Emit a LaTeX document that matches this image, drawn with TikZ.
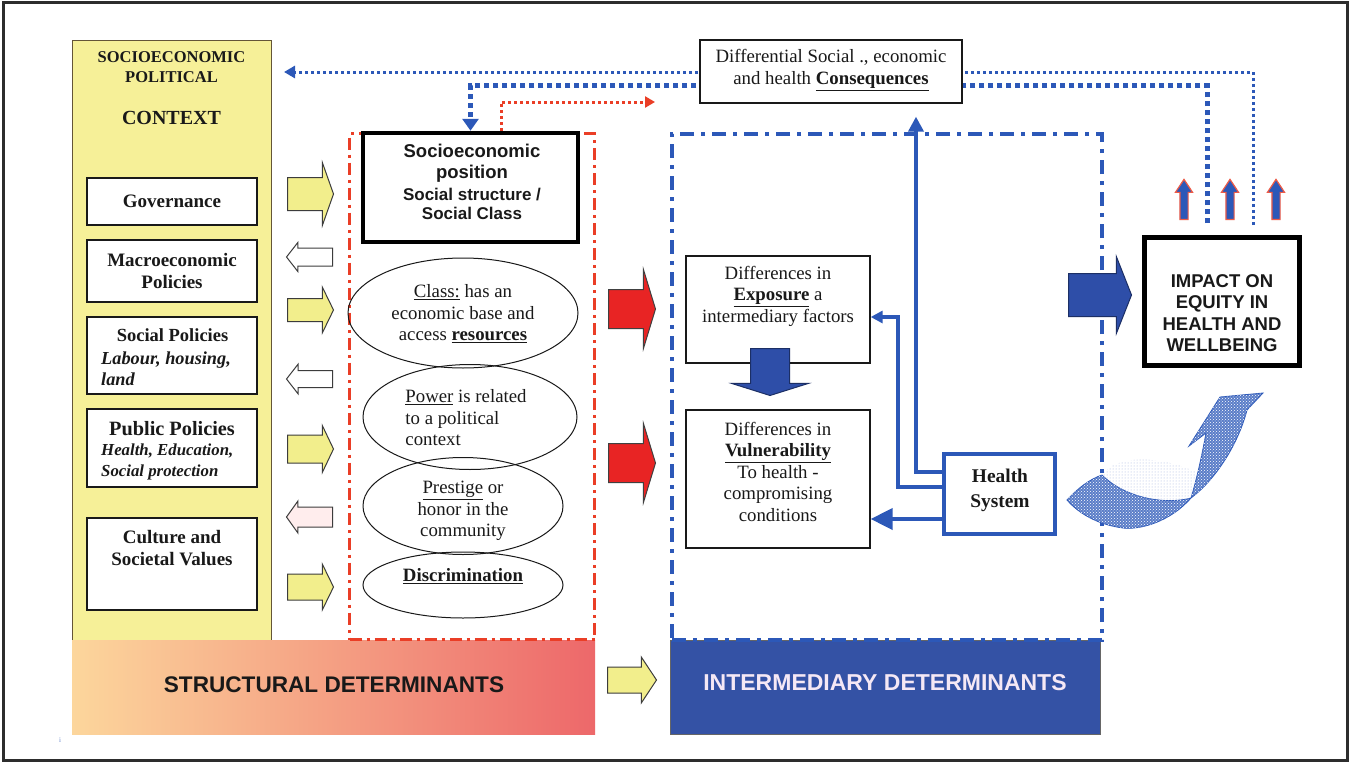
\documentclass[tikz,border=0pt]{standalone}
\usepackage{fontspec}
\setmainfont{Liberation Serif}
\setsansfont{Liberation Sans}
\usetikzlibrary{shapes.geometric,shapes.arrows,arrows.meta,patterns,calc}
\definecolor{ctxyellow}{RGB}{246,240,152}
\definecolor{ctxborder}{RGB}{100,85,55}
\definecolor{arryellow}{RGB}{242,238,140}
\definecolor{redline}{RGB}{234,62,38}
\definecolor{bluel}{RGB}{44,88,184}
\definecolor{bluebar}{RGB}{52,82,165}
\definecolor{bluefill}{RGB}{46,78,168}
\definecolor{gradL}{RGB}{252,214,156}
\definecolor{gradR}{RGB}{237,104,106}
\definecolor{redfill}{RGB}{232,36,36}
\definecolor{inkc}{RGB}{25,25,25}
\definecolor{framec}{RGB}{45,45,45}
\definecolor{bartext}{RGB}{245,232,245}
\tikzset{
 txt/.style={inner sep=0pt, align=center, text=inkc, font=\fontsize{18.8}{21.5}\selectfont},
 box/.style={draw=inkc, fill=white, line width=1.3, inner sep=0pt},
 polbox/.style={box, minimum width=170},
 ptitle/.style={txt, font=\bfseries\fontsize{19}{22.5}\selectfont},
 psub/.style={txt, align=left, font=\bfseries\itshape\fontsize{16.8}{21}\selectfont},
 barr/.style n args={4}{single arrow, single arrow head indent=0pt, inner xsep=0pt, inner ysep=#2, minimum width=1pt, minimum height=#1, single arrow head extend=#3, single arrow tip angle=#4, line width=1, anchor=tail},
 barrv/.style n args={4}{single arrow, single arrow head indent=0pt, inner ysep=0pt, inner xsep=#2, minimum width=1pt, minimum height=#1, single arrow head extend=#3, single arrow tip angle=#4, line width=1, anchor=tail},
 yarr/.style={draw=inkc!85, fill=arryellow},
 warr/.style={draw=inkc!85, fill=white, shape border rotate=180},
 rarr/.style={draw=black!75, fill=redfill},
 bbarr/.style={draw=bluefill!60!black, fill=bluefill},
 uparr/.style={draw=redline!85, fill=bluel, shape border rotate=90, line width=1.2},
 elli/.style={ellipse, draw=inkc, line width=1, inner sep=0pt},
 sanst/.style={txt, font=\sffamily\bfseries\fontsize{18.5}{21.5}\selectfont},
 conn/.style={bluel, line width=4},
}
\begin{document}
\begin{tikzpicture}[x=1pt,y=-1pt]
\useasboundingbox (0,0) rectangle (1350,763);
\fill[white] (0,0) rectangle (1350,763);
\draw[framec, line width=3] (3,2.5) rectangle (1347.5,760.5);

% ---------- context column
\node[draw=ctxborder, fill=ctxyellow, line width=1.3, minimum width=199, minimum height=602, anchor=north west, inner sep=0pt] (ctx) at (72,40) {};
\node[txt, font=\bfseries\fontsize{16.5}{20}\selectfont] (ctxA) at (171.5,67) {SOCIOECONOMIC\\POLITICAL};
\node[txt, font=\bfseries\fontsize{20}{22}\selectfont] (ctxB) at (171.5,118) {CONTEXT};

\node[polbox, ptitle, minimum height=47] (gov) at (172,201.5) {Governance};
\node[polbox, ptitle, minimum height=62] (mac) at (172,271) {Macroeconomic\\Policies};
\node[polbox, minimum height=77] (soc) at (172,355.5) {};
\node[ptitle, font=\bfseries\fontsize{18.5}{22}\selectfont] (socT) at (172.5,335) {Social Policies};
\node[psub, font=\bfseries\itshape\fontsize{18.3}{21}\selectfont, anchor=west] (socS) at (101,369) {Labour, housing,\\land};
\node[polbox, minimum height=78] (pub) at (172,448) {};
\node[ptitle, font=\bfseries\fontsize{20.3}{22}\selectfont] (pubT) at (172,429) {Public Policies};
\node[psub, anchor=west] (pubS) at (101,462) {Health, Education,\\Social protection};
\node[polbox, minimum height=92] (cul) at (172,564) {};
\node[ptitle] (culT) at (172,548) {Culture and\\Societal Values};

% ---------- bottom bars
\node[anchor=north west, minimum width=523, minimum height=94, left color=gradL, right color=gradR, inner sep=0pt] (sdbar) at (72,640) {};
\node[txt, font=\sffamily\bfseries\fontsize{22.6}{24}\selectfont] (sdT) at (334,685) {STRUCTURAL DETERMINANTS};
\node[anchor=north west, minimum width=430, minimum height=94, fill=bluebar, draw=black!60, line width=1, inner sep=0pt] (idbar) at (670,640) {};
\node[txt, text=bartext, font=\sffamily\bfseries\fontsize{23}{24}\selectfont] (idT) at (885,683) {INTERMEDIARY DETERMINANTS};
\node[txt, font=\fontsize{7}{8}\selectfont, text=bluel!70] (ii) at (60,740) {i};

% ---------- group frames
\node[draw=redline, line width=3, dash pattern=on 12pt off 5pt on 3pt off 5pt, minimum width=245, minimum height=506, anchor=north west, inner sep=0pt] (sgrp) at (348,132) {};
\node[draw=bluel, line width=4, dash pattern=on 14pt off 7pt on 4pt off 7pt, minimum width=430, minimum height=506, anchor=north west, inner sep=0pt] (igrp) at (670,132) {};

% ---------- block arrows, context <-> position
\node[barr={46pt}{16pt}{15pt}{141}, yarr] (a1) at (287,194) {};
\node[barr={46pt}{8.5pt}{5.5pt}{104}, warr] (a2) at (333,257) {};
\node[barr={46pt}{11pt}{11.5pt}{128}, yarr] (a3) at (287,310) {};
\node[barr={46pt}{8pt}{6.5pt}{104}, warr] (a4) at (333,379) {};
\node[barr={46pt}{13.5pt}{9.5pt}{129}, yarr] (a5) at (287,449) {};
\node[barr={46pt}{9.5pt}{6pt}{109}, warr, fill=red!7] (a6) at (333,517) {};
\node[barr={46pt}{12.5pt}{10pt}{128}, yarr] (a7) at (287,587) {};
\node[barr={49pt}{12.5pt}{10pt}{113}, yarr] (a8) at (607,680) {};

% ---------- dotted feedback lines
\coordinate (la0) at (1253,225);
\coordinate (la1) at (284,72);
\coordinate (lb0) at (1207,223);
\draw[bluel, line width=3, dash pattern=on 3pt off 3pt, -{Triangle[length=11,width=12]}] (la0) |- (la1);

% ---------- socioeconomic position
\node[draw=black, line width=4.5, fill=white, minimum width=215, minimum height=109, inner sep=0pt] (sep) at (470.5,187.5) {};
\node[sanst] (sepA) at (472,163) {Socioeconomic\\position};
\node[sanst, font=\sffamily\bfseries\fontsize{17}{18.5}\selectfont] (sepB) at (472,204) {Social structure /\\Social Class};

\draw[bluel, line width=5, dash pattern=on 5pt off 4pt, -{Triangle[length=12,width=16]}] (lb0) |- ($(sep.north)+(0,-45)$) -- (sep.north);
\coordinate (rd1) at (655,102);
\draw[redline, line width=3, dash pattern=on 3pt off 3pt, -{Triangle[length=10,width=11]}] ([xshift=30.5pt]sep.north) |- (rd1);

% ---------- ellipses
\node[elli, minimum width=230, minimum height=110] (eClass) at (463,313) {};
\node[elli, minimum width=214, minimum height=105] (ePower) at (470,417) {};
\node[elli, minimum width=200, minimum height=97] (ePrest) at (463,506) {};
\node[elli, minimum width=200, minimum height=66] (eDisc) at (463,585) {};
\node[txt] (tClass) at (463,314) {\underline{Class:} has an\\economic base and\\access \underline{\textbf{resources}}};
\node[txt, align=left] (tPower) at (466,418) {\underline{Power} is related\\to a political\\context};
\node[txt] (tPrest) at (463,511) {\underline{Prestige} or\\honor in the\\community};
\node[txt] (tDisc) at (463,576) {\underline{\textbf{Discrimination}}};

% ---------- red arrows
\node[barr={47pt}{19pt}{20pt}{146}, rarr] (r1) at (608,309) {};
\node[barr={47pt}{19pt}{20pt}{146}, rarr] (r2) at (608,463) {};

% ---------- consequences box
\node[box, minimum width=262, minimum height=63] (cons) at (831,71.5) {};
\node[txt] (consT) at (831,70) {Differential Social ., economic\\and health \underline{\textbf{Consequences}}};

% ---------- intermediary boxes
\node[box, minimum width=184, minimum height=107] (expo) at (778,309.5) {};
\node[txt] (expoT) at (778,296) {Differences in\\\underline{\textbf{Exposure}} a\\intermediary factors};
\node[box, minimum width=184, minimum height=138] (vuln) at (778,479) {};
\node[txt] (vulnT) at (778,471.5) {Differences in\\\underline{\textbf{Vulnerability}}\\To health -\\compromising\\conditions};
\node[barrv={47pt}{19pt}{19pt}{145}, bbarr, shape border rotate=270] (dn) at (770,348) {};

\node[draw=bluel, line width=4, fill=white, minimum width=111, minimum height=80, inner sep=0pt] (hs) at (999.5,494) {};
\node[ptitle, font=\bfseries\fontsize{19.4}{25}\selectfont] (hsT) at (1000,490) {Health\\System};

\coordinate (hsA) at ($(hs.west)+(0,-22)$);
\coordinate (hsB) at ($(hs.west)+(0,-7)$);
\coordinate (hsC) at ($(hs.west)+(0,25)$);
\draw[conn, -{Triangle[length=15,width=15]}, shorten >=13pt] (hsA) -| ([xshift=85pt]cons.south);
\draw[conn, -{Triangle[length=12,width=12]}] (hsB) -- ++(-44,0) |- ([yshift=-7.5pt]expo.east);
\draw[conn, -{Triangle[length=22,width=21]}] (hsC) -- (vuln.east |- hsC);

% ---------- impact
\node[draw=black, line width=5, fill=white, minimum width=155, minimum height=128, inner sep=0pt] (imp) at (1221.5,301) {};
\node[sanst] (impT) at (1222,313) {IMPACT ON\\EQUITY IN\\HEALTH AND\\WELLBEING};
\node[barr={63pt}{21pt}{17pt}{137}, bbarr] (bimp) at (1068,295) {};
\node[barrv={40pt}{3.5pt}{4.5pt}{67}, uparr] (u1) at (1184,220) {};
\node[barrv={40pt}{3.5pt}{4.5pt}{67}, uparr] (u2) at (1230,220) {};
\node[barrv={40pt}{3.5pt}{4.5pt}{67}, uparr] (u3) at (1276,220) {};

% ---------- curved feedback arrow
\path[fill=bluel!78, draw=bluel, line width=0.8]
 (1067,500) .. controls (1078,488) and (1090,479) .. (1102,475)
 .. controls (1125,498) and (1165,505) .. (1191,498)
 .. controls (1197,478) and (1202,455) .. (1206,433)
 -- (1189,446) -- (1220,397) -- (1263,393) -- (1247,410)
 .. controls (1238,445) and (1215,480) .. (1191,498)
 .. controls (1170,522) and (1140,530) .. (1123,528)
 .. controls (1100,525) and (1080,515) .. (1067,500) -- cycle;
\path[pattern=crosshatch dots, pattern color=white]
 (1067,500) .. controls (1078,488) and (1090,479) .. (1102,475)
 .. controls (1125,498) and (1165,505) .. (1191,498)
 .. controls (1197,478) and (1202,455) .. (1206,433)
 -- (1189,446) -- (1220,397) -- (1263,393) -- (1247,410)
 .. controls (1238,445) and (1215,480) .. (1191,498)
 .. controls (1170,522) and (1140,530) .. (1123,528)
 .. controls (1100,525) and (1080,515) .. (1067,500) -- cycle;
\path[pattern=dots, pattern color=bluel!45]
 (1102,475) .. controls (1115,455) and (1160,455) .. (1196,472)
 -- (1191,498) .. controls (1165,505) and (1125,498) .. (1102,475) -- cycle;
\end{tikzpicture}
\end{document}
